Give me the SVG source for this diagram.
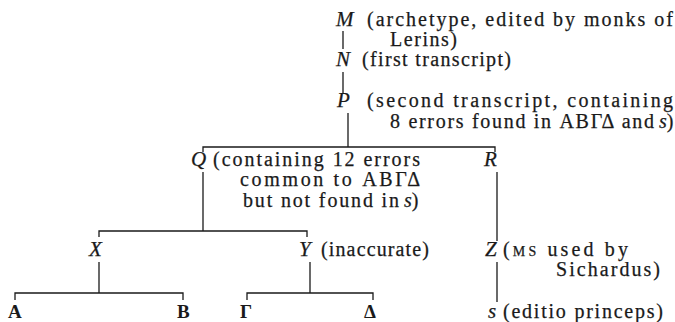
<svg xmlns="http://www.w3.org/2000/svg" width="675" height="322" viewBox="0 0 675 322">
  <style>
    text { font-family: "Liberation Serif", "DejaVu Serif", serif; font-size: 20px; fill: #1a1a1a; stroke: #1a1a1a; stroke-width: 0.25; }
    .i { font-style: italic; font-size: 21px; }
    .is { font-style: italic; }
    .g { font-weight: bold; font-size: 19px; stroke-width: 0; }
    .sc { font-size: 14px; }
    .ln { fill: none; stroke: #1a1a1a; stroke-width: 1.3; }
  </style>
  <rect width="675" height="322" fill="#ffffff"/>

  <!-- stemma connectors -->
  <g id="connectors" class="ln">
    <line x1="343" y1="31" x2="343" y2="49"/>
    <line x1="343" y1="72" x2="343" y2="93"/>
    <line x1="348" y1="113" x2="348" y2="147"/>
    <polyline points="203,152 203,147 495,147 495,152"/>
    <line x1="203" y1="172" x2="203" y2="231"/>
    <polyline points="99,237 99,231 307,231 307,237"/>
    <line x1="497" y1="172" x2="497" y2="241"/>
    <line x1="99" y1="262" x2="99" y2="293"/>
    <polyline points="15,300 15,293 183,293 183,300"/>
    <line x1="310" y1="262" x2="310" y2="293"/>
    <polyline points="247,300 247,293 373,293 373,300"/>
    <line x1="497" y1="262" x2="497" y2="302"/>
  </g>

  <g id="node-M">
    <text class="i" x="336" y="26">M</text>
    <text x="367" y="26" textLength="306" lengthAdjust="spacing">(archetype, edited by monks of</text>
    <text x="390" y="46" textLength="67" lengthAdjust="spacing">Lerins)</text>
  </g>

  <g id="node-N">
    <text class="i" x="336" y="66">N</text>
    <text x="362" y="66" textLength="149" lengthAdjust="spacing">(first transcript)</text>
  </g>

  <g id="node-P">
    <text class="i" x="337" y="107">P</text>
    <text x="367" y="107" textLength="306" lengthAdjust="spacing">(second transcript, containing</text>
    <text x="390" y="128" textLength="264" lengthAdjust="spacing">8 errors found in ΑΒΓΔ and</text>
    <text x="659" y="128"><tspan class="is">s</tspan>)</text>
  </g>

  <g id="node-Q">
    <text class="i" x="191" y="166">Q</text>
    <text x="213" y="166" textLength="207" lengthAdjust="spacing">(containing 12 errors</text>
    <text x="240" y="186" textLength="180" lengthAdjust="spacing">common to ΑΒΓΔ</text>
    <text x="243" y="207" textLength="156" lengthAdjust="spacing">but not found in</text>
    <text x="404" y="207"><tspan class="is">s</tspan>)</text>
  </g>

  <g id="node-R">
    <text class="i" x="484" y="166">R</text>
  </g>

  <g id="node-X">
    <text class="i" x="89" y="256">X</text>
  </g>

  <g id="node-Y">
    <text class="i" x="299" y="256">Y</text>
    <text x="321" y="256" textLength="108" lengthAdjust="spacing">(inaccurate)</text>
  </g>

  <g id="node-Z">
    <text class="i" x="485" y="256">Z</text>
    <text x="503" y="256" textLength="125" lengthAdjust="spacing">(<tspan class="sc">MS</tspan> used by</text>
    <text x="556" y="276" textLength="104" lengthAdjust="spacing">Sichardus)</text>
  </g>

  <g id="node-s">
    <text class="i" x="488" y="318">s</text>
    <text x="503" y="318" textLength="160" lengthAdjust="spacing">(editio princeps)</text>
  </g>

  <g id="node-A"><text class="g" x="8" y="318">Α</text></g>
  <g id="node-B"><text class="g" x="177" y="318">Β</text></g>
  <g id="node-Gamma"><text class="g" x="240" y="318">Γ</text></g>
  <g id="node-Delta"><text class="g" x="364" y="318">Δ</text></g>
</svg>
